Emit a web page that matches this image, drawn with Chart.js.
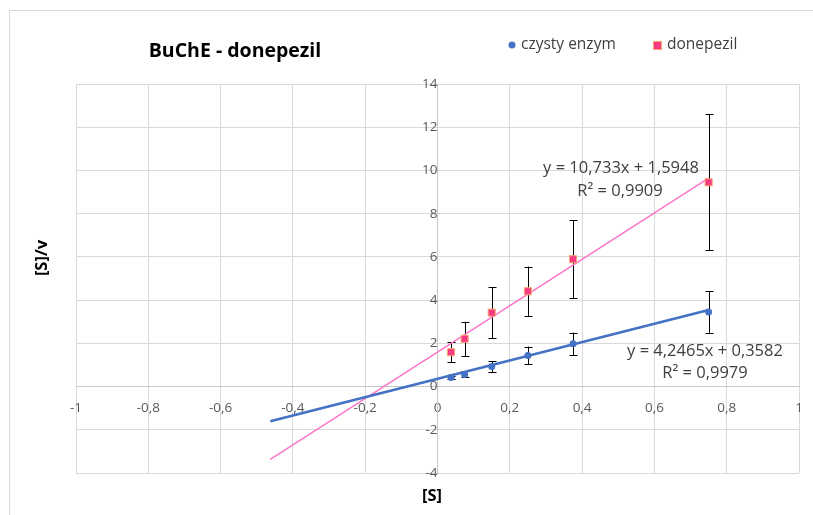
<!DOCTYPE html>
<html>
<head>
<meta charset="utf-8">
<script src="https://cdn.jsdelivr.net/npm/chart.js@4/dist/chart.umd.min.js"></script>
<style>
  html, body { margin: 0; padding: 0; background: #fff; overflow: hidden; }
  #wrap { position: relative; width: 813px; height: 515px; }
  #frame { position: absolute; left: 9px; top: 10px; width: 900px; height: 600px; border: 1px solid #D9D9D9; }
  canvas { position: absolute; left: 0; top: 0; }
</style>
</head>
<body>
<div id="wrap">
  <div id="frame"></div>
  <canvas id="chart_BuChE" width="813" height="515"></canvas>
</div>
<script>
// stezenie substratu [S]
const substrate = [0.0375, 0.075, 0.15, 0.25, 0.375, 0.75];
// [S]/v - czysty enzym
const enzym = [0.42, 0.56, 0.93, 1.44, 1.98, 3.45];
const enzymErr = [0.08, 0.14, 0.25, 0.41, 0.52, 0.96];
// [S]/v - donepezil
const donepezil = [1.59, 2.21, 3.42, 4.41, 5.89, 9.45];
const donepezilErr = [0.46, 0.79, 1.18, 1.14, 1.81, 3.14];

// linie trendu (z Excela)
const trendSlope = [4.2465, 10.733];
const trendIntercept = [0.3582, 1.5948];
const trendR2 = ['0,9979', '0,9909'];
const trendRange = [-0.4625, 0.75];

const seriesNames = ['czysty enzym', 'donepezil'];
const xTicks = [-1, -0.8, -0.6, -0.4, -0.2, 0, 0.2, 0.4, 0.6, 0.8, 1];

const blue = '#4472C4';
const pinkLine = '#FF6EC7';
const pinkFill = '#F73A84';
const pinkBorder = '#F9A66C';
const fontFam = '"Open Sans", "Liberation Sans", sans-serif';

const fmt = v => String(Math.round(v * 10) / 10).replace('.', ',');
const pts = (xs, ys) => xs.map((x, i) => ({ x: x, y: ys[i] }));
const trend = k => trendRange.map(x => ({ x: x, y: trendSlope[k] * x + trendIntercept[k] }));

const errorBars = {
    id: 'errorBars',
    beforeDatasetsDraw(chart) {
        const { ctx, scales: { x, y } } = chart;
        ctx.save();
        ctx.strokeStyle = '#000';
        ctx.lineWidth = 1;
        [[enzym, enzymErr], [donepezil, donepezilErr]].forEach(([vals, errs]) => {
            substrate.forEach((s, i) => {
                const px = Math.round(x.getPixelForValue(s)) + 0.5;
                const top = y.getPixelForValue(vals[i] + errs[i]);
                const bot = y.getPixelForValue(vals[i] - errs[i]);
                ctx.beginPath();
                ctx.moveTo(px, top); ctx.lineTo(px, bot);
                ctx.moveTo(px - 4, Math.round(top) + 0.5); ctx.lineTo(px + 4, Math.round(top) + 0.5);
                ctx.moveTo(px - 4, Math.round(bot) + 0.5); ctx.lineTo(px + 4, Math.round(bot) + 0.5);
                ctx.stroke();
            });
        });
        ctx.restore();
    }
};

const texts = {
    id: 'texts',
    afterDraw(chart) {
        const ctx = chart.ctx;
        ctx.save();
        ctx.textBaseline = 'middle';
        ctx.textAlign = 'center';

        // tytul
        ctx.fillStyle = '#000';
        ctx.font = 'bold 19.5px ' + fontFam;
        ctx.fillText('BuChE - donepezil', 235, 51);

        // legenda
        ctx.font = '15.5px ' + fontFam;
        ctx.textAlign = 'left';
        ctx.fillStyle = '#404040';
        ctx.fillText(seriesNames[0], 521, 45);
        ctx.fillText(seriesNames[1], 667, 45);
        ctx.fillStyle = blue;
        ctx.beginPath(); ctx.arc(512, 45, 3.5, 0, Math.PI * 2); ctx.fill();
        ctx.fillStyle = pinkFill;
        ctx.strokeStyle = pinkBorder;
        ctx.fillRect(654, 42, 7, 7);
        ctx.strokeRect(653.5, 41.5, 8, 8);

        // osie
        ctx.fillStyle = '#000';
        ctx.textAlign = 'center';
        ctx.font = 'bold 16.5px ' + fontFam;
        ctx.fillText('[S]', 432, 496);
        ctx.save();
        ctx.translate(42, 258);
        ctx.rotate(-Math.PI / 2);
        ctx.fillText('[S]/v', 0, 0);
        ctx.restore();

        // rownania trendu
        ctx.fillStyle = '#404040';
        ctx.font = '16.5px ' + fontFam;
        ctx.fillText('y = ' + String(trendSlope[1]).replace('.', ',') + 'x + ' + String(trendIntercept[1]).replace('.', ','), 621, 168);
        ctx.fillText('R² = ' + trendR2[1], 620, 191);
        ctx.fillText('y = ' + String(trendSlope[0]).replace('.', ',') + 'x + ' + String(trendIntercept[0]).replace('.', ','), 705, 351);
        ctx.fillText('R² = ' + trendR2[0], 705, 373);
        ctx.restore();
    }
};

const ctx_BuChE = document.getElementById('chart_BuChE');
new Chart(ctx_BuChE, {
    type: 'scatter',
    data: {
        datasets: [
            {
                label: seriesNames[0],
                data: pts(substrate, enzym),
                pointStyle: 'circle',
                pointRadius: 3.5,
                backgroundColor: blue,
                borderColor: blue,
                borderWidth: 0,
                order: 0
            },
            {
                label: seriesNames[1],
                data: pts(substrate, donepezil),
                pointStyle: 'rect',
                pointRadius: 5,
                backgroundColor: pinkFill,
                borderColor: pinkBorder,
                borderWidth: 1,
                order: 0
            },
            {
                label: 'trend enzym',
                type: 'line',
                data: trend(0),
                borderColor: blue,
                borderWidth: 2.75,
                pointRadius: 0,
                fill: false,
                order: 1
            },
            {
                label: 'trend donepezil',
                type: 'line',
                data: trend(1),
                borderColor: pinkLine,
                borderWidth: 1.25,
                pointRadius: 0,
                fill: false,
                order: 1
            }
        ]
    },
    options: {
        responsive: false,
        animation: false,
        layout: { padding: { left: 76, top: 84, right: 14, bottom: 42 } },
        plugins: {
            legend: { display: false },
            title: { display: false },
            tooltip: { enabled: false }
        },
        scales: {
            x: {
                type: 'linear',
                position: { y: 0 },
                min: -1,
                max: 1,
                afterBuildTicks: axis => { axis.ticks = xTicks.map(v => ({ value: v })); },
                afterFit: axis => { axis.paddingLeft = 0; axis.paddingRight = 0; },
                ticks: {
                    autoSkip: false,
                    maxRotation: 0,
                    padding: 14,
                    color: '#595959',
                    font: { size: 13.5, family: fontFam },
                    callback: v => fmt(v)
                },
                grid: { color: '#D9D9D9', drawTicks: false },
                border: { color: '#C8C8C8' }
            },
            y: {
                type: 'linear',
                position: { x: 0 },
                min: -4,
                max: 14,
                afterFit: axis => { axis.paddingTop = 0; axis.paddingBottom = 0; },
                ticks: {
                    stepSize: 2,
                    padding: 11,
                    color: '#595959',
                    font: { size: 13.5, family: fontFam },
                    callback: v => fmt(v)
                },
                grid: { color: '#D9D9D9', drawTicks: false },
                border: { color: '#C8C8C8' }
            }
        }
    },
    plugins: [errorBars, texts]
});
</script>
</body>
</html>
